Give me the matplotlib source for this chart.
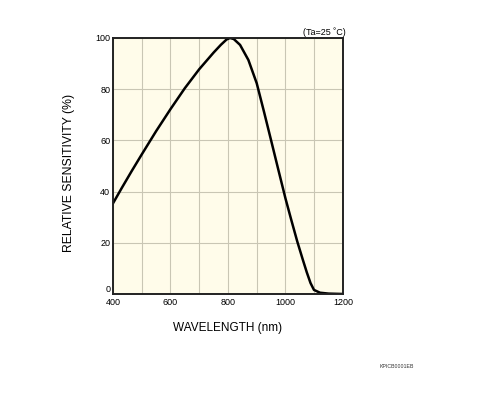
import matplotlib
matplotlib.use("Agg")
import matplotlib.pyplot as plt

# values
wavelength = [400, 430, 465, 500, 550, 600, 650, 700, 750, 775, 795, 807,
              820, 842, 871, 900, 925, 950, 975, 1000, 1020, 1041, 1060,
              1074, 1087, 1099, 1120, 1150, 1200]
sensitivity = [35.4, 41.3, 48, 54.5, 63.6, 72.2, 80.4, 87.8, 94.3, 97.3, 99.4, 100,
               99.6, 97.3, 91.4, 82.3, 71.3, 60, 48.6, 37.3, 29, 20.5, 13.5,
               8.5, 4.3, 1.6, 0.5, 0.15, 0]
xticks = [400, 600, 800, 1000, 1200]
yticks = [0, 20, 40, 60, 80, 100]

plt.rcParams['font.family'] = ['Liberation Sans', 'DejaVu Sans']

fig = plt.figure(figsize=(4.94, 3.96), dpi=100)
ax = fig.add_axes([0.2287, 0.2576, 0.4656, 0.6465])
ax.set_facecolor('#fffcea')

ax.set_xlim(400, 1200)
ax.set_ylim(0, 100)
ax.set_xticks(range(400, 1201, 100))
ax.set_xticklabels([str(v) if v in xticks else '' for v in range(400, 1201, 100)])
ax.set_yticks(yticks)
ax.tick_params(length=0, labelsize=6.5, pad=2)
ax.tick_params(axis='x', pad=3)
# nudge the "0" label up a touch, as in the reference
ax.get_yticklabels()[0].set_va('bottom')
ax.grid(True, color='#c9c6b4', linewidth=0.8)
ax.set_axisbelow(True)
for s in ax.spines.values():
    s.set_linewidth(1.4)
    s.set_color('#222222')

ax.plot(wavelength, sensitivity, color='black', linewidth=1.8,
        solid_joinstyle='round')

ax.set_xlabel('WAVELENGTH (nm)', fontsize=8.5, labelpad=11)
ax.set_ylabel('RELATIVE SENSITIVITY (%)', fontsize=8.8)
ax.yaxis.set_label_coords(-0.163, 0.473)
ax.text(1.01, 1.005, '(Ta=25 \u02daC)', transform=ax.transAxes, ha='right', va='bottom',
        fontsize=6.5)
fig.text(380 / 494, 1 - 366 / 396, 'KPICB0001EB', ha='left', va='center',
         fontsize=3.8, color='#333333')

fig.savefig('out.png', dpi=100)
